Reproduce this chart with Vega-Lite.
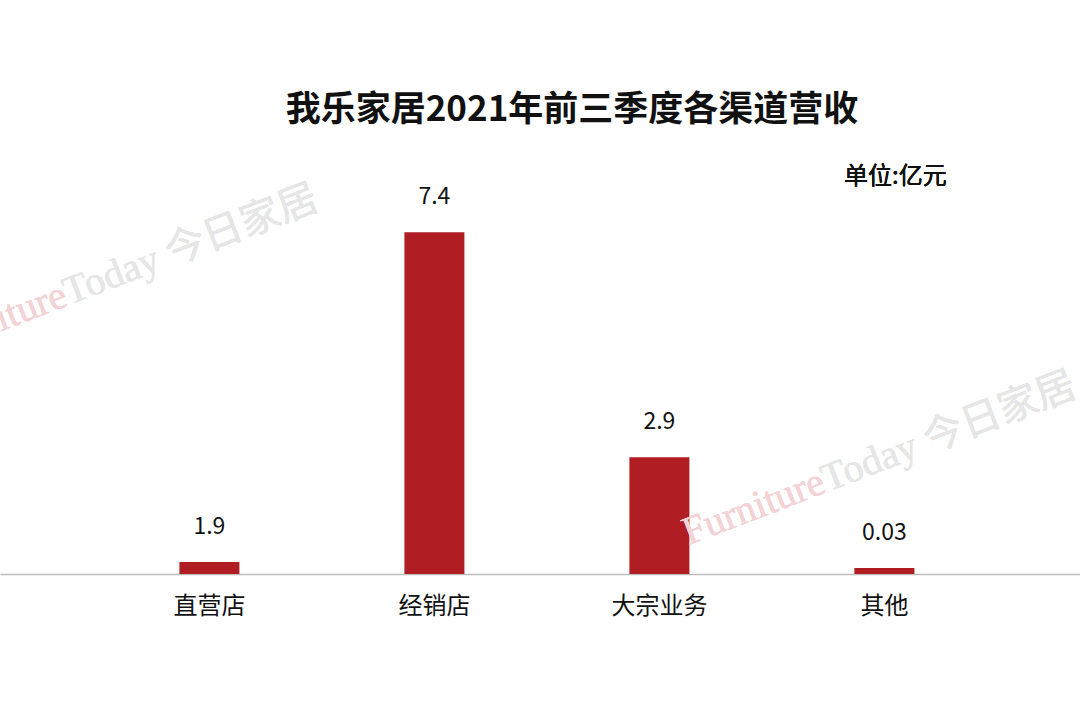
{
  "$schema": "https://vega.github.io/schema/vega-lite/v6.json",
  "autosize": {"type": "none"},
  "width": 1080,
  "height": 434,
  "padding": {"left": 0, "right": 0, "top": 140, "bottom": 134},
  "background": "white",
  "config": {
    "view": {"stroke": null},
    "font": "Noto Sans CJK SC"
  },
  "title": {
    "text": "我乐家居2021年前三季度各渠道营收",
    "font": "Noto Sans CJK SC",
    "fontSize": 35,
    "fontWeight": "bold",
    "color": "#111111",
    "anchor": "middle",
    "dx": 32,
    "offset": 12
  },
  "data": {
    "values": [
      {"渠道": "直营店", "营收": "1.9", "柱长": 0.26},
      {"渠道": "经销店", "营收": "7.4", "柱长": 7.4},
      {"渠道": "大宗业务", "营收": "2.9", "柱长": 2.53},
      {"渠道": "其他", "营收": "0.03", "柱长": 0.13}
    ]
  },
  "layer": [
    {
      "mark": {"type": "bar", "color": "#B01E24"},
      "encoding": {
        "x": {
          "field": "渠道",
          "type": "nominal",
          "scale": {"domain": ["直营店", "经销店", "大宗业务", "其他"], "paddingInner": 0.7333, "paddingOuter": 0.7667, "align": 0.52},
          "axis": {
            "title": null,
            "labelAngle": 0,
            "labelFont": "Noto Sans CJK SC",
            "labelFontSize": 24,
            "labelColor": "#111111",
            "labelPadding": 20,
            "ticks": false,
            "domainColor": "#bdbdbd",
            "domainWidth": 1.5,
            "grid": false
          }
        },
        "y": {
          "field": "柱长",
          "type": "quantitative",
          "scale": {"domain": [0, 9.4], "nice": false},
          "axis": null
        }
      }
    },
    {
      "mark": {"type": "text", "text": "Furniture", "font": "Liberation Serif", "fontSize": 40, "color": "#f3d3d6", "opacity": 0.9, "angle": -21, "align": "right", "baseline": "alphabetic", "dx": -150},
      "encoding": {"x": {"datum": "直营店", "type": "nominal"}, "y": {"datum": 6.99, "type": "quantitative"}}
    },
    {
      "mark": {"type": "text", "text": "Today 今日家居", "font": "Liberation Serif, Noto Sans CJK SC", "fontSize": 40, "color": "#e6e6e6", "opacity": 0.9, "angle": -21, "align": "left", "baseline": "alphabetic", "dx": -150},
      "encoding": {"x": {"datum": "直营店", "type": "nominal"}, "y": {"datum": 6.99, "type": "quantitative"}}
    },
    {
      "mark": {"type": "text", "text": "Furniture", "font": "Liberation Serif", "fontSize": 40, "color": "#f3d3d6", "opacity": 0.9, "angle": -21, "align": "right", "baseline": "alphabetic", "dx": -61},
      "encoding": {"x": {"datum": "其他", "type": "nominal"}, "y": {"datum": 2.25, "type": "quantitative"}}
    },
    {
      "mark": {"type": "text", "text": "Today 今日家居", "font": "Liberation Serif, Noto Sans CJK SC", "fontSize": 40, "color": "#e6e6e6", "opacity": 0.9, "angle": -21, "align": "left", "baseline": "alphabetic", "dx": -61},
      "encoding": {"x": {"datum": "其他", "type": "nominal"}, "y": {"datum": 2.25, "type": "quantitative"}}
    },
    {
      "mark": {"type": "text", "font": "Noto Sans CJK SC", "fontSize": 23, "fontWeight": 400, "color": "#111111", "baseline": "alphabetic", "dy": -28},
      "encoding": {
        "x": {"field": "渠道", "type": "nominal"},
        "y": {"field": "柱长", "type": "quantitative"},
        "text": {"field": "营收"}
      }
    },
    {
      "mark": {"type": "text", "text": "单位:亿元", "font": "Noto Sans CJK SC", "fontSize": 24, "fontWeight": 400, "color": "#111111", "baseline": "middle", "dx": 11},
      "encoding": {"x": {"datum": "其他", "type": "nominal"}, "y": {"datum": 8.6, "type": "quantitative"}}
    }
  ]
}
